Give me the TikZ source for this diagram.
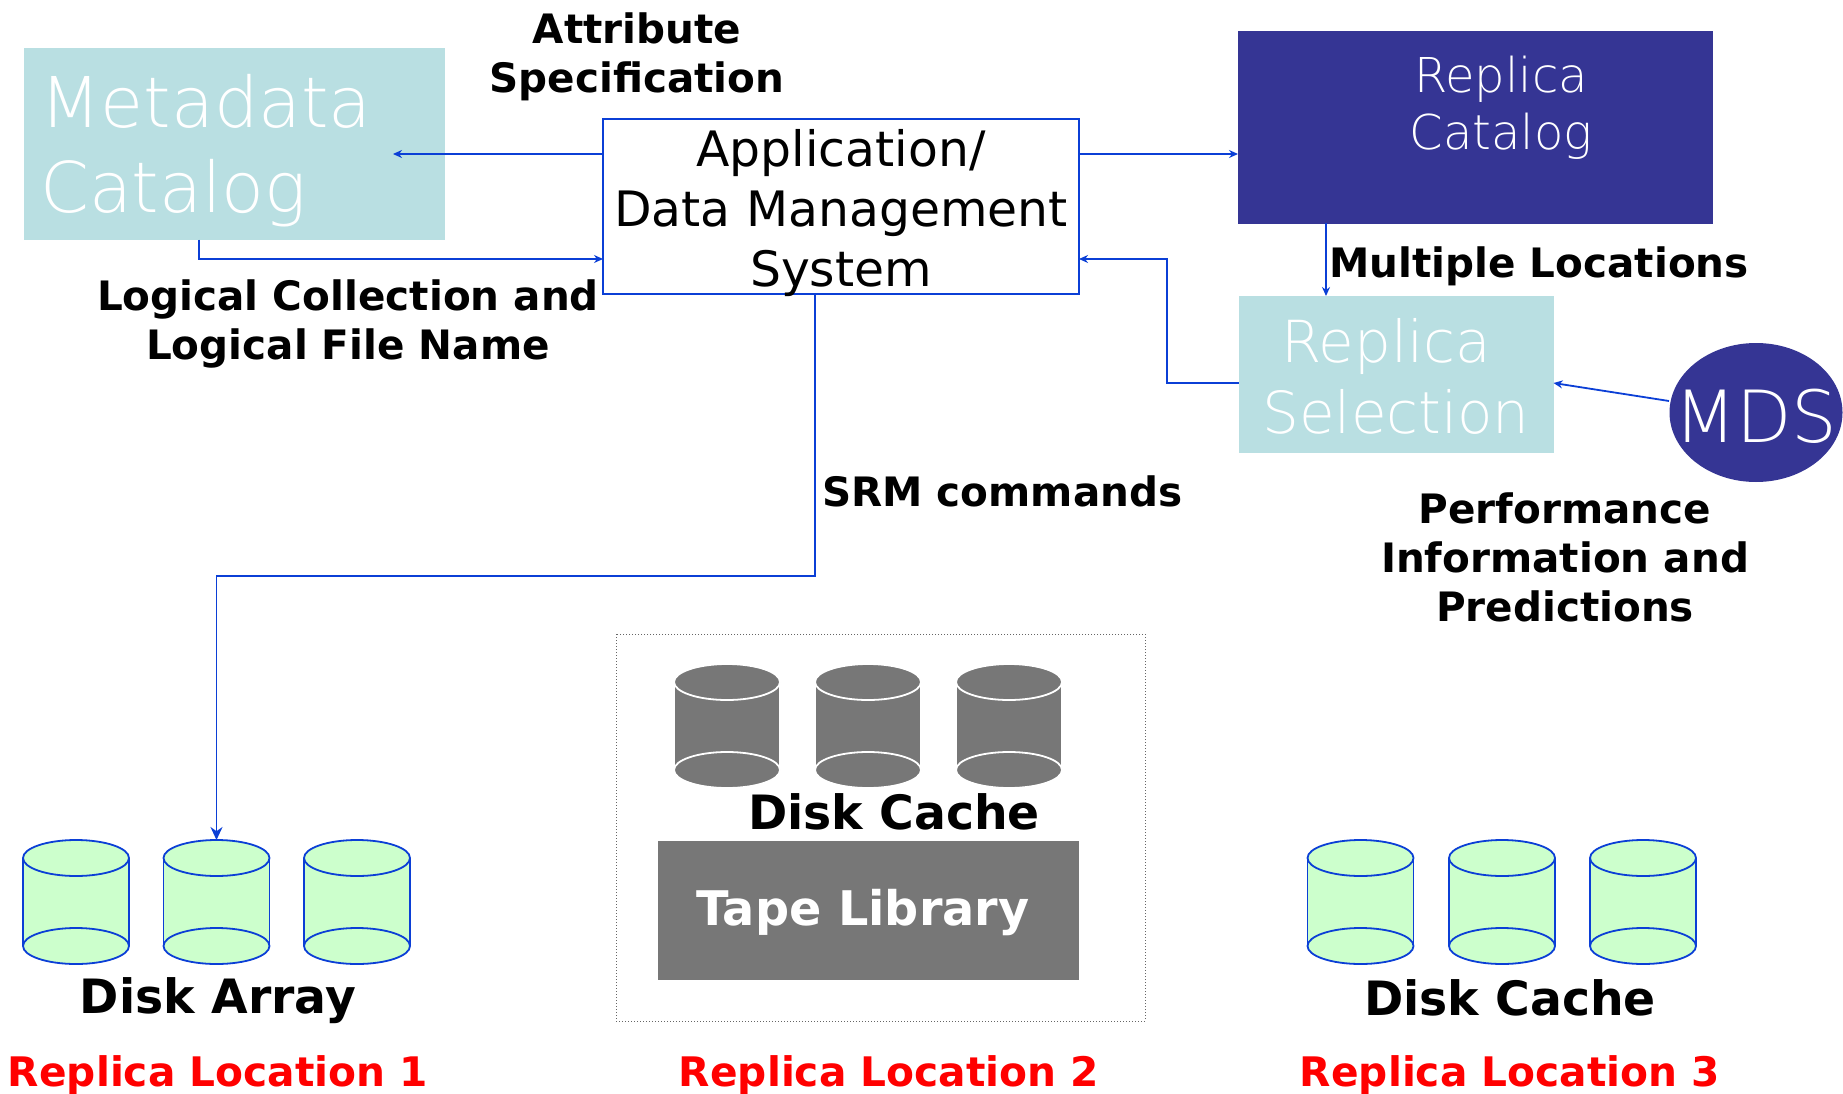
\documentclass[tikz,border=0pt]{standalone}
\usepackage{fontspec}
\usetikzlibrary{arrows.meta,shapes.geometric,calc}
\setmainfont{DejaVu Sans}
\newfontfamily\thinface{DejaVu Sans ExtraLight}
\definecolor{teal}{HTML}{B9DFE2}
\definecolor{navy}{HTML}{353594}
\definecolor{wire}{HTML}{0B3FD6}
\definecolor{mint}{HTML}{CCFFCC}
\definecolor{slate}{HTML}{777777}
\tikzset{
 box/.style={rectangle,inner sep=0pt,outer sep=0pt},
 conn/.style={draw=wire,line width=1.8pt,-{Stealth[length=9pt,width=8pt]}},
 bigconn/.style={draw=wire,line width=1.8pt,-{Stealth[length=13pt,width=12pt]}},
 boldlab/.style={inner sep=0pt,align=center,font=\fontsize{40.5}{49}\selectfont\bfseries},
 biglab/.style={inner sep=0pt,align=center,font=\fontsize{47.3}{60}\selectfont\bfseries},
 redlab/.style={inner sep=0pt,text=red,font=\fontsize{40.7}{50}\selectfont\bfseries},
 applab/.style={inner sep=0pt,align=center,font=\fontsize{48.8}{60}\selectfont},
 thinlab/.style={inner sep=0pt,text=white,font=\fontsize{#1}{#1}\selectfont\thinface},
 thinlab/.default=48,
 cyl/.pic={
  \path[fill=\cylfill] (-\cylrx,0) -- (-\cylrx,88) arc[start angle=180,end angle=360,x radius=\cylrx,y radius=-18] -- (\cylrx,0) arc[start angle=0,end angle=180,x radius=\cylrx,y radius=18];
  \draw[draw=\cylline,line width=1.8pt] (-\cylrx,88) -- (-\cylrx,0) (\cylrx,0) -- (\cylrx,88);
  \draw[draw=\cylline,line width=1.8pt,fill=\cylfill] (0,0) ellipse[x radius=\cylrx,y radius=18];
  \draw[draw=\cylline,line width=1.8pt,fill=\cylfill] (0,88) ellipse[x radius=\cylrx,y radius=18];
  \coordinate (-top) at (0,-18);
 }
}
\newcommand{\cylrx}{53}
\newcommand{\cylfill}{mint}
\newcommand{\cylline}{wire}
\begin{document}
\begin{tikzpicture}[x=1pt,y=-1pt]
\useasboundingbox (0,0) rectangle (1843,1094);
% boxes
\node[box,fill=teal,minimum width=421pt,minimum height=191pt] (meta) at (234.5,144) {};
\node[box,fill=navy,minimum width=475pt,minimum height=192pt] (rcat) at (1475.5,127.5) {};
\node[box,fill=teal,minimum width=315pt,minimum height=157pt] (rsel) at (1396,374.5) {};
\node[ellipse,fill=navy,inner sep=0pt,minimum width=173pt,minimum height=139pt] (mds) at (1756,412.5) {};
\node[box,draw=wire,line width=1.8pt,fill=white,minimum width=476pt,minimum height=175pt] (app) at (841,206.5) {};
% box texts
\node[thinlab=70,anchor=base west] (metaA) at (40,128) {Metadata};
\node[thinlab=70,anchor=base west] (metaB) at (40,212) {Catalog};
\node[thinlab=48] (rcatA) at (1501,79) {Replica};
\node[thinlab=48] (rcatB) at (1501,136) {Catalog};
\node[thinlab=58] (rselA) at (1386,346) {Replica};
\node[thinlab=58] (rselB) at (1396,412) {Selection};
\node[thinlab=72] (mdsT) at (1756,416) {MDS};
\node[applab] (appT) at (841,213) {Application/\\Data Management\\System};
% labels
\node[boldlab] (attr) at (637,57) {Attribute\\Specification};
\node[boldlab] (logi) at (348,324) {Logical Collection and\\Logical File Name};
\node[boldlab,anchor=west] (mult) at (1329,266) {Multiple Locations};
\node[boldlab,anchor=west] (srm) at (822,491) {SRM commands};
\node[boldlab] (perf) at (1565,557) {Performance\\Information and\\Predictions};
% free ends and bends
\coordinate (m1) at (393,154);
\coordinate (m2) at (199,259);
\coordinate (r1) at (1167,383);
\coordinate (a1) at (815,576);
% connectors
\draw[conn] (app.west |- m1) -- (m1);
\draw[conn] (m2 |- meta.south) -- (m2) -- (app.west |- m2);
\draw[conn] (app.east |- m1) -- (rcat.west |- m1);
\draw[conn] (1326,223) coordinate (rc) -- (rc |- rsel.north);
\draw[conn] (rsel.west |- r1) -- (r1) -- (r1 |- m2) -- (app.east |- m2);
\coordinate (mdsOut) at (1669,401);
\draw[conn] (mdsOut) -- (rsel.east |- r1);
% disk array
\pic (g1) at (76,858) {cyl};
\pic (g2) at (216.5,858) {cyl};
\pic (g3) at (357,858) {cyl};
\pic (g4) at (1360.5,858) {cyl};
\pic (g5) at (1502,858) {cyl};
\pic (g6) at (1643,858) {cyl};
\draw[bigconn] (a1 |- app.south) -- (a1) -- (g2-top |- a1) -- (g2-top);
% location 2
\draw[line width=1pt,dotted,draw=black!60] (616,634) rectangle (1145,1021);
\begin{scope}
\renewcommand{\cylfill}{slate}
\renewcommand{\cylline}{white}
\renewcommand{\cylrx}{53}
\pic (k1) at (727,682) {cyl};
\pic (k2) at (868,682) {cyl};
\pic (k3) at (1009,682) {cyl};
\end{scope}
\node[box,fill=slate,minimum width=421pt,minimum height=139pt] (tape) at (868,910.5) {};
\node[inner sep=0pt,text=white,font=\fontsize{47.7}{60}\selectfont\bfseries] (tapeT) at (863,913) {Tape Library};
\node[biglab] (dc2) at (894,812) {Disk Cache};
\node[biglab] (da) at (218,1001) {Disk Array};
\node[biglab] (dc3) at (1510,998) {Disk Cache};
\node[redlab] (r1t) at (218,1075) {Replica Location 1};
\node[redlab] (r2t) at (889,1075) {Replica Location 2};
\node[redlab] (r3t) at (1510,1075) {Replica Location 3};
\end{tikzpicture}
\end{document}
